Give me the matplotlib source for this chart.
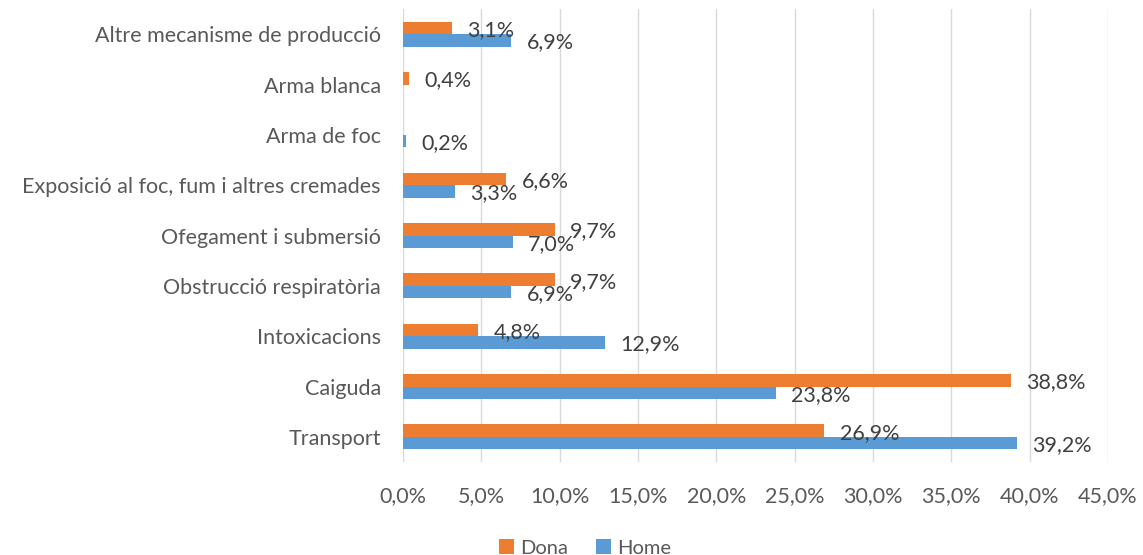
import numpy as np
import matplotlib
matplotlib.use("Agg")
import matplotlib.pyplot as plt

plt.rcParams['font.family'] = ['Lato', 'DejaVu Sans']

# categories bottom to top
categories = ["Transport", "Caiguda", "Intoxicacions", "Obstrucció respiratòria",
              "Ofegament i submersió", "Exposició al foc, fum i altres cremades",
              "Arma de foc", "Arma blanca", "Altre mecanisme de producció"]
dona = [26.9, 38.8, 4.8, 9.7, 9.7, 6.6, np.nan, 0.4, 3.1]
home = [39.2, 23.8, 12.9, 6.9, 7.0, 3.3, 0.2, np.nan, 6.9]
x_ticks = [0, 5, 10, 15, 20, 25, 30, 35, 40, 45]

orange = "#ED7D31"
blue = "#5B9BD5"
text_col = "#595959"

fig = plt.figure(figsize=(11.43, 5.55), dpi=100)
ax = fig.add_axes([403 / 1143, 1 - 462 / 555, (1108 - 403) / 1143, (462 - 9) / 555])

y = np.arange(len(categories))
h = 0.25
b1 = ax.barh(y + h / 2, dona, height=h, color=orange, label="Dona", zorder=3)
b2 = ax.barh(y - h / 2, home, height=h, color=blue, label="Home", zorder=3)

# data labels at the bar ends
for vals, off in ((dona, h / 2), (home, -h / 2)):
    for yi, v in zip(y, vals):
        if np.isnan(v):
            continue
        ax.annotate(f"{v:.1f}%".replace(".", ","), (v, yi + off),
                    xytext=(11, -1.5), textcoords="offset points",
                    ha="left", va="center", fontsize=15.5, color="#404040", zorder=4)

ax.set_xlim(0, 45)
ax.set_ylim(-0.5, len(categories) - 0.5)
ax.set_xticks(x_ticks)
ax.set_xticklabels([f"{t:.1f}%".replace(".", ",") for t in x_ticks])
ax.set_yticks(y)
ax.set_yticklabels(categories)
ax.tick_params(axis="both", length=0, labelsize=15.5, labelcolor=text_col)
ax.tick_params(axis="x", pad=17)
ax.tick_params(axis="y", pad=16)
ax.grid(axis="x", color="#D9D9D9", linewidth=1, zorder=0)
for s in ax.spines.values():
    s.set_visible(False)

fig.legend(handles=[b1, b2], loc="lower center", ncol=2, frameon=False,
           bbox_to_anchor=(0.512, -0.036), fontsize=14.5, handlelength=0.75,
           handleheight=0.75, handletextpad=0.3, columnspacing=1.4,
           labelcolor=text_col)

fig.savefig("out.png", dpi=100)
